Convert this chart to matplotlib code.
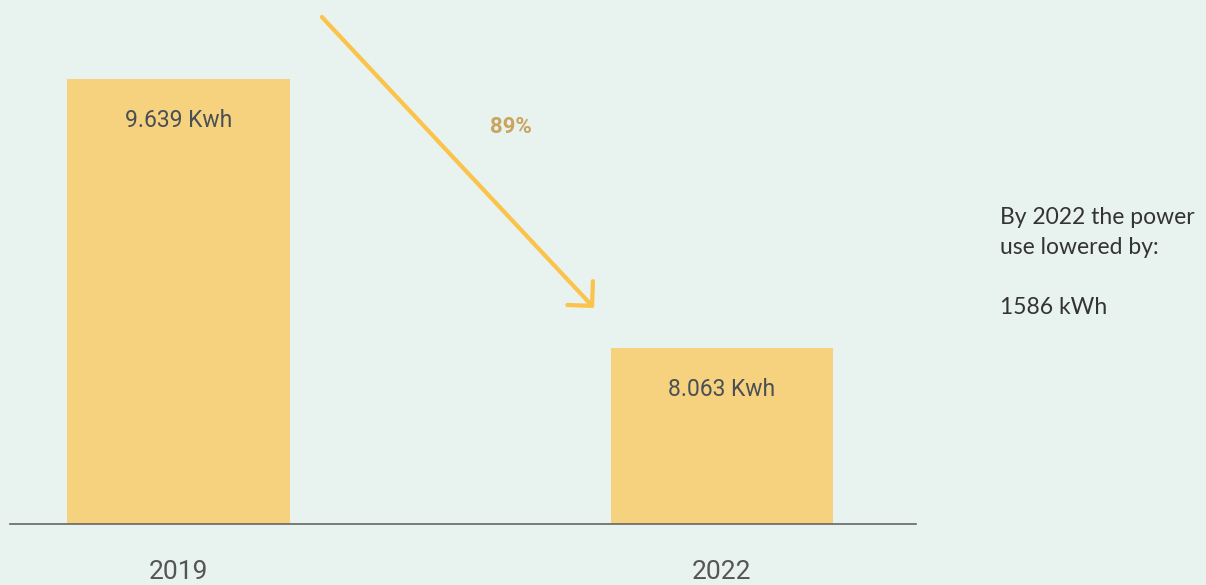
import matplotlib.pyplot as plt

years = ["2019", "2022"]
usage = [9.639, 8.063]
value_labels = ["9.639 Kwh", "8.063 Kwh"]
change_label = "89%"
note_lines = ["By 2022 the power", "use lowered by:", "", "1586 kWh"]

bg = "#e8f2ee"
bar_color = "#f6d27e"

fig = plt.figure(figsize=(12.06, 5.85), dpi=100)
fig.patch.set_facecolor(bg)
ax = fig.add_axes([10 / 1206, 61 / 585, 906 / 1206, 524 / 585])
ax.set_facecolor(bg)

x = list(range(len(years)))
ax.bar(x, usage, width=0.41, color=bar_color, zorder=2)
ax.set_xlim(-0.31, 1.357)
ax.set_ylim(7.032, 10.1)

for xi, v, lab in zip(x, usage, value_labels):
    ax.annotate(lab, (xi, v), xytext=(0, -30), textcoords="offset points",
                ha="center", va="center", fontsize=16.5,
                family="Roboto", color="#4a4f55")

for s in ["top", "right", "left"]:
    ax.spines[s].set_visible(False)
ax.spines["bottom"].set_color("#666666")
ax.spines["bottom"].set_linewidth(1.2)
ax.set_yticks([])
ax.set_xticks(x)
ax.set_xticklabels(years, fontsize=19, family="Roboto", color="#555555")
ax.tick_params(axis="x", length=0, pad=26)

# trend arrow
ax.annotate("", xy=(596 / 1206, 1 - 310 / 585), xycoords="figure fraction",
            xytext=(320 / 1206, 1 - 15 / 585), textcoords="figure fraction",
            arrowprops=dict(arrowstyle="->,head_length=0.9,head_width=0.9",
                            mutation_scale=14, color="#fbc34a", lw=3))
fig.text(511 / 1206, 1 - 127 / 585, change_label, ha="center", va="center",
         fontsize=16, fontweight="bold", family="Roboto", color="#c9a45e")

fig.text(1000 / 1206, 1 - 207 / 585, "\n".join(note_lines), ha="left", va="top",
         fontsize=16.5, family="Lato", color="#333333", linespacing=1.53)

fig.savefig("out.png", dpi=100, facecolor=bg)
